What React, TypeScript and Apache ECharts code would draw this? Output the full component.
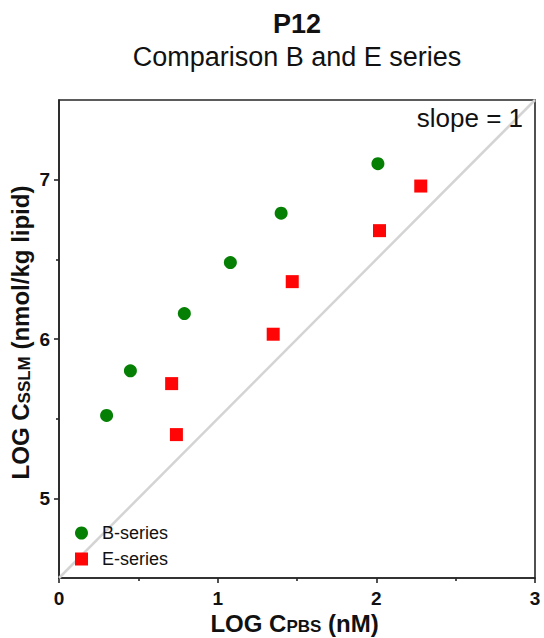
import React, { useEffect, useRef } from "react";
import * as echarts from "echarts";

const bSeriesX = [0.30, 0.45, 0.79, 1.08, 1.40, 2.01];
const bSeriesY = [5.52, 5.80, 6.16, 6.48, 6.79, 7.10];
const eSeriesX = [0.71, 0.74, 1.35, 1.47, 2.02, 2.28];
const eSeriesY = [5.72, 5.40, 6.03, 6.36, 6.68, 6.96];
const slopeLineX = [0, 3];
const slopeLineY = [4.5, 7.5];
const yMajorTicks = [5, 6, 7];
const yMinorTicks = [5.5, 6.5];

const FONT = "'Liberation Sans', Arial, sans-serif";
const INK = "#111";
const AXIS = "#262626";

export default function App() {
  const ref = useRef<HTMLDivElement>(null);
  useEffect(() => {
    if (!ref.current) return;
    const chart = echarts.init(ref.current, null, { renderer: "svg" });
    const lineStyle = { color: AXIS, width: 1.6 };
    const tickRich = { t: { fontFamily: FONT, fontWeight: "bold", fontSize: 19, color: INK } };
    const nameRich = {
      m: { fontFamily: FONT, fontWeight: "bold", fontSize: 24, lineHeight: 24, fill: INK, verticalAlign: "top" },
      s: { fontFamily: FONT, fontWeight: "bold", fontSize: 17, lineHeight: 17, fill: INK, verticalAlign: "bottom", padding: [10, 0, 0, 0] },
    };
    chart.setOption({
      animation: false,
      backgroundColor: "#fff",
      textStyle: { fontFamily: FONT },
      grid: {
        left: 59,
        right: 9,
        top: 100,
        bottom: 60,
        show: true,
        borderColor: AXIS,
        borderWidth: 1.6,
        backgroundColor: "transparent",
        outerBoundsMode: "none",
        containLabel: false,
      },
      legend: {
        orient: "vertical",
        left: 70,
        top: 519,
        itemWidth: 13,
        itemHeight: 13,
        itemGap: 8,
        textStyle: { fontFamily: FONT, fontSize: 18, color: INK, padding: [0, 0, 0, 9] },
        data: [
          { name: "B-series", icon: "circle" },
          { name: "E-series", icon: "rect" },
        ],
      },
      xAxis: {
        type: "value",
        min: 0,
        max: 3,
        interval: 1,
        axisLine: { show: true, onZero: false, lineStyle },
        axisTick: { show: true, inside: false, length: 5, lineStyle },
        minorTick: { show: true, splitNumber: 2, length: 3, lineStyle },
        splitLine: { show: false },
        minorSplitLine: { show: false },
        axisLabel: {
          fontFamily: FONT, fontWeight: "bold", fontSize: 19, color: INK, margin: 11,
          formatter: "{t|{value}}", rich: tickRich,
        },
      },
      yAxis: [
        {
          type: "value",
          min: 4.5,
          max: 7.5,
          axisLine: { show: true, onZero: false, lineStyle },
          axisTick: { show: true, inside: false, length: 5, lineStyle, customValues: yMajorTicks },
          splitLine: { show: false },
          axisLabel: {
            fontFamily: FONT, fontWeight: "bold", fontSize: 19, color: INK, margin: 9, customValues: yMajorTicks,
            formatter: "{t|{value}}", rich: tickRich,
          },
        },
        {
          type: "value",
          min: 4.5,
          max: 7.5,
          position: "left",
          axisLine: { show: false },
          axisTick: { show: true, inside: false, length: 3, lineStyle, customValues: yMinorTicks },
          splitLine: { show: false },
          axisLabel: { show: false },
        },
      ],
      graphic: [
        {
          type: "text",
          x: 297,
          y: 24,
          style: { text: "P12", fontFamily: FONT, fontWeight: "bold", fontSize: 27, fill: INK, align: "center", verticalAlign: "middle" },
        },
        {
          type: "text",
          x: 297,
          y: 57,
          style: { text: "Comparison B and E series", fontFamily: FONT, fontSize: 27, fill: INK, align: "center", verticalAlign: "middle" },
        },
        {
          type: "text",
          x: 523,
          y: 118,
          z: 10,
          style: { text: "slope = 1", fontFamily: FONT, fontSize: 26, fill: INK, align: "right", verticalAlign: "middle" },
        },
        {
          type: "text",
          x: 294.5,
          y: 611,
          style: { text: "{m|LOG C}{s|PBS}{m| (nM)}", rich: nameRich, align: "center", verticalAlign: "top" },
        },
        {
          type: "text",
          x: 8.5,
          y: 332.5,
          rotation: Math.PI / 2,
          style: { text: "{m|LOG C}{s|SSLM}{m| (nmol/kg lipid)}", rich: nameRich, align: "center", verticalAlign: "top" },
        },
      ],
      series: [
        {
          type: "line",
          name: "slope",
          data: slopeLineX.map((x, i) => [x, slopeLineY[i]]),
          showSymbol: false,
          silent: true,
          lineStyle: { color: "#d4d4d4", width: 2.5 },
          z: 1,
        },
        {
          type: "scatter",
          name: "B-series",
          symbol: "circle",
          symbolSize: 13,
          itemStyle: { color: "#058005", opacity: 1 },
          data: bSeriesX.map((x, i) => [x, bSeriesY[i]]),
          z: 3,
        },
        {
          type: "scatter",
          name: "E-series",
          symbol: "rect",
          symbolSize: 13,
          itemStyle: { color: "#ff0505", opacity: 1 },
          data: eSeriesX.map((x, i) => [x, eSeriesY[i]]),
          z: 3,
        },
      ],
    });
    return () => chart.dispose();
  }, []);
  return <div ref={ref} style={{ width: 544, height: 638, position: "absolute", left: 0, top: 0 }} />;
}
